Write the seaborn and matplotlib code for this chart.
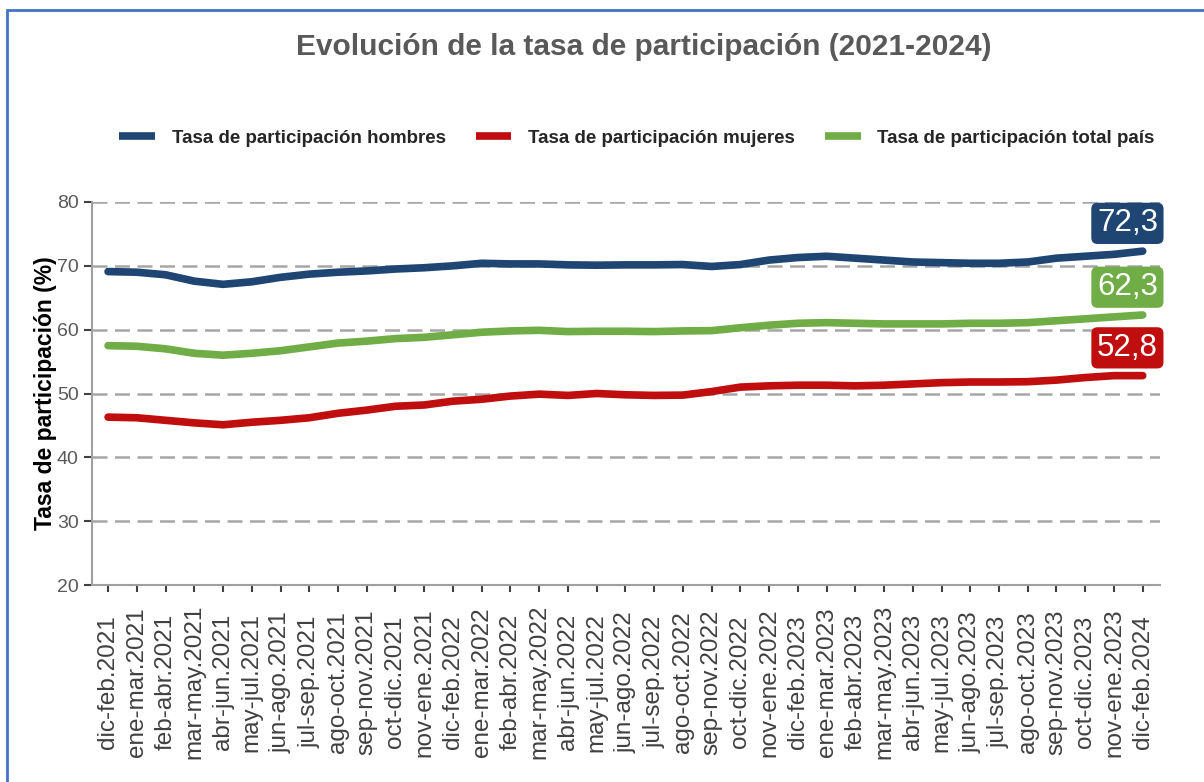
import pandas as pd
import matplotlib.pyplot as plt
import seaborn as sns
from matplotlib.patches import Rectangle

# Datos
periodos = ['dic-feb.2021', 'ene-mar.2021', 'feb-abr.2021', 'mar-may.2021', 'abr-jun.2021',
            'may-jul.2021', 'jun-ago.2021', 'jul-sep.2021', 'ago-oct.2021', 'sep-nov.2021',
            'oct-dic.2021', 'nov-ene.2021', 'dic-feb.2022', 'ene-mar.2022', 'feb-abr.2022',
            'mar-may.2022', 'abr-jun.2022', 'may-jul.2022', 'jun-ago.2022', 'jul-sep.2022',
            'ago-oct.2022', 'sep-nov.2022', 'oct-dic.2022', 'nov-ene.2022', 'dic-feb.2023',
            'ene-mar.2023', 'feb-abr.2023', 'mar-may.2023', 'abr-jun.2023', 'may-jul.2023',
            'jun-ago.2023', 'jul-sep.2023', 'ago-oct.2023', 'sep-nov.2023', 'oct-dic.2023',
            'nov-ene.2023', 'dic-feb.2024']

hombres = [69.1, 69.0, 68.6, 67.6, 67.1, 67.5, 68.2, 68.7, 69.0, 69.2,
           69.5, 69.7, 70.0, 70.4, 70.3, 70.3, 70.15, 70.1, 70.15, 70.15,
           70.2, 69.9, 70.2, 70.9, 71.3, 71.5, 71.2, 70.9, 70.6, 70.5,
           70.4, 70.4, 70.6, 71.2, 71.5, 71.8, 72.3]

mujeres = [46.3, 46.2, 45.8, 45.4, 45.1, 45.5, 45.8, 46.2, 46.9, 47.4,
           48.0, 48.2, 48.8, 49.1, 49.6, 49.9, 49.7, 50.0, 49.8, 49.7,
           49.75, 50.3, 51.0, 51.2, 51.3, 51.3, 51.2, 51.3, 51.5, 51.7,
           51.8, 51.8, 51.85, 52.1, 52.5, 52.8, 52.8]

total = [57.5, 57.4, 57.0, 56.3, 56.0, 56.3, 56.7, 57.3, 57.9, 58.2,
         58.6, 58.8, 59.2, 59.6, 59.8, 59.9, 59.7, 59.75, 59.75, 59.7,
         59.8, 59.85, 60.3, 60.7, 61.0, 61.1, 61.0, 60.9, 60.9, 60.9,
         61.0, 61.0, 61.1, 61.4, 61.7, 62.0, 62.3]

series = ['Tasa de participación hombres', 'Tasa de participación mujeres',
          'Tasa de participación total país']
colores = ['#1F4672', '#C00D0D', '#70AD47']
etiquetas_finales = ['72,3', '62,3', '52,8']

df = pd.DataFrame({'pos': range(len(periodos)), 'periodo': periodos,
                   series[0]: hombres, series[1]: mujeres, series[2]: total})
largo = df.melt(id_vars=['pos', 'periodo'], value_vars=series,
                var_name='serie', value_name='tasa')

sns.set_style('white')
plt.rcParams['font.family'] = ['Liberation Sans', 'DejaVu Sans']

fig = plt.figure(figsize=(12.04, 7.82), dpi=100)
ax = fig.add_axes([0.0764, 0.2519, 0.887, 0.4898])

sns.lineplot(data=largo, x='pos', y='tasa', hue='serie', hue_order=series,
             palette=colores, linewidth=5.5, ax=ax, sort=False)

ax.set_ylim(20, 80)
ax.set_xlim(-0.56, 36.6)
ax.set_yticks(range(20, 81, 10))
ax.set_xticks(range(len(periodos)))
ax.set_xticklabels(periodos, rotation=90, fontsize=17.5, color='#404040', va='center')
ax.tick_params(axis='y', labelsize=14, labelcolor='#595959', length=6, width=1.5,
               color='#404040', direction='out', left=True)
ax.tick_params(axis='x', length=5, width=1.5, color='#404040', direction='out', bottom=True, pad=65)
ax.yaxis.grid(True, color='#A6A6A6', linestyle=(0, (6, 3)), linewidth=1.8, zorder=0)
ax.set_axisbelow(True)
for s in ['top', 'right']:
    ax.spines[s].set_visible(False)
for s in ['left', 'bottom']:
    ax.spines[s].set_color('#A0A0A0')
    ax.spines[s].set_linewidth(1.5)

ax.set_xlabel('')
ax.set_ylabel('Tasa de participación (%)', fontsize=16.5, fontweight='bold', color='black', labelpad=0)

# Etiquetas del último valor
finales = [hombres[-1], total[-1], mujeres[-1]]
colores_fin = [colores[0], colores[2], colores[1]]
for val, txt, col in zip(finales, etiquetas_finales, colores_fin):
    ax.annotate(txt, xy=(len(periodos) - 1, val), xytext=(-11, 20), textcoords='offset points',
                ha='center', va='center', fontsize=22.5, color='white',
                bbox=dict(boxstyle='round,pad=0.18,rounding_size=0.2', fc=col, ec='none'),
                annotation_clip=False)

handles, labels = ax.get_legend_handles_labels()
for h in handles:
    h.set_solid_capstyle('butt')
ax.legend(handles, labels, loc='center', bbox_to_anchor=(0.529, 0.823), bbox_transform=fig.transFigure,
          ncol=3, frameon=False, handlelength=1.9, columnspacing=1.6, handletextpad=0.9,
          prop={'weight': 'bold', 'size': 13.5})

fig.text(0.535, 0.94, 'Evolución de la tasa de participación (2021-2024)', ha='center', va='center',
         fontsize=21.5, fontweight='bold', color='#595959')

fig.patches.append(Rectangle((0.0062, -0.1), 1.2, 1.0872, transform=fig.transFigure,
                             fill=False, ec='#4472C4', lw=2))

fig.savefig('out.png', dpi=100)
